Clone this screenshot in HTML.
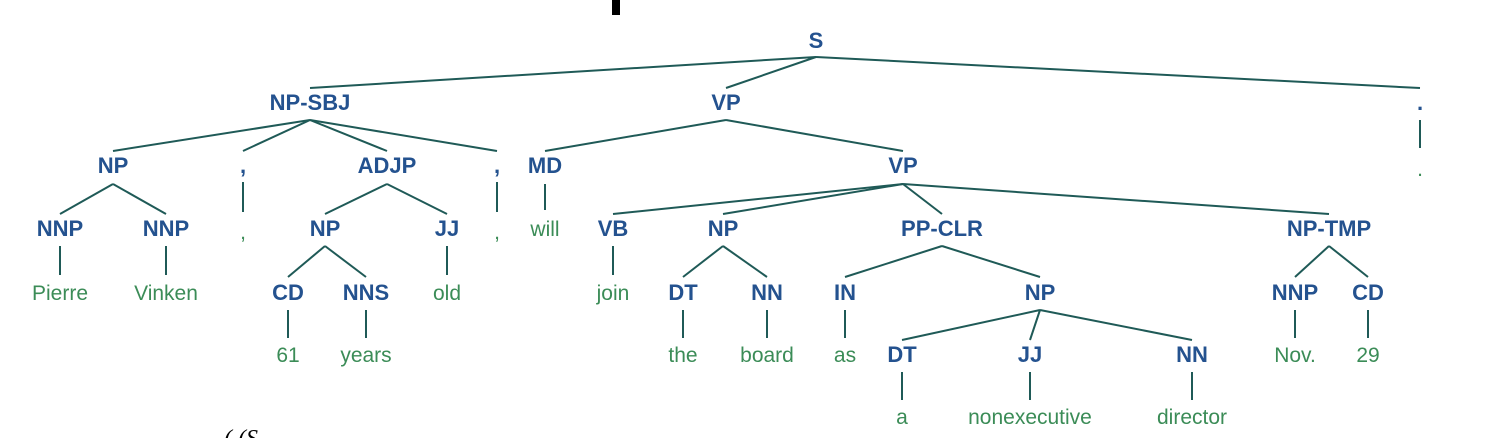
<!DOCTYPE html>
<html><head><meta charset="utf-8"><style>
html,body{margin:0;padding:0;background:#fff;}
svg{display:block;}
.n{font:bold 22px "Liberation Sans",sans-serif;fill:#24528f;text-anchor:middle;}
.w{font:21px "Liberation Sans",sans-serif;fill:#3b8c57;text-anchor:middle;}
line{stroke:#1f5a57;stroke-width:2;}
</style></head><body>
<svg width="1494" height="438" viewBox="0 0 1494 438" xmlns="http://www.w3.org/2000/svg">
<rect x="612" y="0" width="8" height="15" fill="#000"/>
<line x1="816" y1="57" x2="310" y2="88"/>
<line x1="816" y1="57" x2="726" y2="88"/>
<line x1="816" y1="57" x2="1420" y2="88"/>
<line x1="310" y1="120" x2="113" y2="151"/>
<line x1="310" y1="120" x2="243" y2="151"/>
<line x1="310" y1="120" x2="387" y2="151"/>
<line x1="310" y1="120" x2="497" y2="151"/>
<line x1="726" y1="120" x2="545" y2="151"/>
<line x1="726" y1="120" x2="903" y2="151"/>
<line x1="1420" y1="120" x2="1420" y2="148"/>
<line x1="113" y1="184" x2="60" y2="214"/>
<line x1="113" y1="184" x2="166" y2="214"/>
<line x1="243" y1="182" x2="243" y2="212"/>
<line x1="387" y1="184" x2="325" y2="214"/>
<line x1="387" y1="184" x2="447" y2="214"/>
<line x1="497" y1="182" x2="497" y2="212"/>
<line x1="545" y1="184" x2="545" y2="210"/>
<line x1="903" y1="184" x2="613" y2="214"/>
<line x1="903" y1="184" x2="723" y2="214"/>
<line x1="903" y1="184" x2="942" y2="214"/>
<line x1="903" y1="184" x2="1329" y2="214"/>
<line x1="60" y1="246" x2="60" y2="275"/>
<line x1="166" y1="246" x2="166" y2="275"/>
<line x1="325" y1="246" x2="288" y2="277"/>
<line x1="325" y1="246" x2="366" y2="277"/>
<line x1="447" y1="246" x2="447" y2="275"/>
<line x1="613" y1="246" x2="613" y2="275"/>
<line x1="723" y1="246" x2="683" y2="277"/>
<line x1="723" y1="246" x2="767" y2="277"/>
<line x1="942" y1="246" x2="845" y2="277"/>
<line x1="942" y1="246" x2="1040" y2="277"/>
<line x1="1329" y1="246" x2="1295" y2="277"/>
<line x1="1329" y1="246" x2="1368" y2="277"/>
<line x1="288" y1="310" x2="288" y2="338"/>
<line x1="366" y1="310" x2="366" y2="338"/>
<line x1="683" y1="310" x2="683" y2="338"/>
<line x1="767" y1="310" x2="767" y2="338"/>
<line x1="845" y1="310" x2="845" y2="338"/>
<line x1="1040" y1="310" x2="902" y2="340"/>
<line x1="1040" y1="310" x2="1030" y2="340"/>
<line x1="1040" y1="310" x2="1192" y2="340"/>
<line x1="1295" y1="310" x2="1295" y2="338"/>
<line x1="1368" y1="310" x2="1368" y2="338"/>
<line x1="902" y1="372" x2="902" y2="400"/>
<line x1="1030" y1="372" x2="1030" y2="400"/>
<line x1="1192" y1="372" x2="1192" y2="400"/>
<text class="n" x="816" y="48">S</text>
<text class="n" x="310" y="110">NP-SBJ</text>
<text class="n" x="726" y="110">VP</text>
<text class="n" x="1420" y="110">.</text>
<text class="n" x="113" y="173">NP</text>
<text class="n" x="243" y="173">,</text>
<text class="n" x="387" y="173">ADJP</text>
<text class="n" x="497" y="173">,</text>
<text class="n" x="545" y="173">MD</text>
<text class="n" x="903" y="173">VP</text>
<text class="w" x="1420" y="176">.</text>
<text class="n" x="60" y="236">NNP</text>
<text class="n" x="166" y="236">NNP</text>
<text class="w" x="243" y="239">,</text>
<text class="n" x="325" y="236">NP</text>
<text class="n" x="447" y="236">JJ</text>
<text class="w" x="497" y="239">,</text>
<text class="w" x="545" y="236">will</text>
<text class="n" x="613" y="236">VB</text>
<text class="n" x="723" y="236">NP</text>
<text class="n" x="942" y="236">PP-CLR</text>
<text class="n" x="1329" y="236">NP-TMP</text>
<text class="w" x="60" y="300">Pierre</text>
<text class="w" x="166" y="300">Vinken</text>
<text class="n" x="288" y="300">CD</text>
<text class="n" x="366" y="300">NNS</text>
<text class="w" x="447" y="300">old</text>
<text class="w" x="613" y="300">join</text>
<text class="n" x="683" y="300">DT</text>
<text class="n" x="767" y="300">NN</text>
<text class="n" x="845" y="300">IN</text>
<text class="n" x="1040" y="300">NP</text>
<text class="n" x="1295" y="300">NNP</text>
<text class="n" x="1368" y="300">CD</text>
<text class="w" x="288" y="362">61</text>
<text class="w" x="366" y="362">years</text>
<text class="w" x="683" y="362">the</text>
<text class="w" x="767" y="362">board</text>
<text class="w" x="845" y="362">as</text>
<text class="n" x="902" y="362">DT</text>
<text class="n" x="1030" y="362">JJ</text>
<text class="n" x="1192" y="362">NN</text>
<text class="w" x="1295" y="362">Nov.</text>
<text class="w" x="1368" y="362">29</text>
<text class="w" x="902" y="424">a</text>
<text class="w" x="1030" y="424">nonexecutive</text>
<text class="w" x="1192" y="424">director</text>
<text x="224" y="446" style="font:italic 24px 'Liberation Serif',serif;fill:#000">( (S</text>
</svg>
</body></html>
